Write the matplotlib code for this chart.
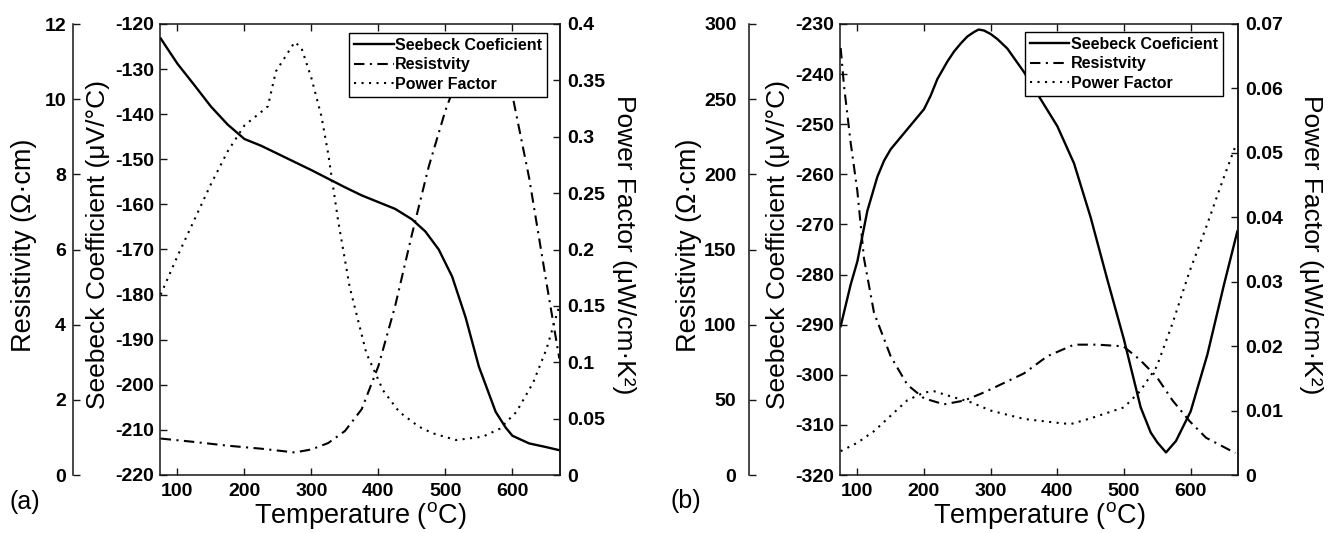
import matplotlib
matplotlib.use("Agg")
import matplotlib.pyplot as plt
from matplotlib.ticker import FixedLocator, FuncFormatter

plt.rcParams['font.family'] = ['Liberation Sans', 'DejaVu Sans']
plt.rcParams['mathtext.fontset'] = 'custom'
plt.rcParams['mathtext.rm'] = 'Liberation Sans'
plt.rcParams['mathtext.default'] = 'regular'

# ---------------- data: panel (a) ----------------
a_T_seebeck = [75, 100, 125, 150, 175, 200, 225, 250, 275, 300, 325, 350, 375, 400,
               425, 450, 470, 490, 510, 530, 550, 575, 590, 600, 625, 650, 670]
a_seebeck = [-123.2, -128.8, -133.5, -138.3, -142.3, -145.5, -147.0, -148.8, -150.6,
             -152.4, -154.3, -156.2, -158.0, -159.5, -161.0, -163.3, -166.0, -170.0,
             -176.0, -185.0, -196.0, -206.0, -209.5, -211.3, -213.0, -213.8, -214.5]
a_T_resist = [75, 125, 175, 225, 275, 300, 325, 350, 375, 400, 425, 450, 475, 500,
              525, 550, 575, 600, 625, 650, 670]
a_resist = [0.97, 0.88, 0.78, 0.70, 0.60, 0.68, 0.85, 1.17, 1.75, 2.9, 4.5, 6.4, 8.2,
            9.7, 10.9, 11.5, 11.3, 10.1, 7.9, 5.2, 3.1]
a_T_pf = [75, 100, 125, 150, 175, 200, 225, 235, 247, 260, 275, 285, 300, 315, 325,
          340, 357, 382, 407, 431, 460, 481, 516, 556, 581, 606, 631, 651, 670]
a_pf = [0.160, 0.194, 0.226, 0.258, 0.287, 0.310, 0.322, 0.327, 0.358, 0.370, 0.384,
        0.379, 0.352, 0.318, 0.285, 0.225, 0.167, 0.108, 0.075, 0.056, 0.043, 0.037,
        0.031, 0.034, 0.041, 0.056, 0.082, 0.112, 0.150]

# ---------------- data: panel (b) ----------------
b_T_seebeck = [75, 90, 100, 115, 130, 140, 150, 160, 175, 190, 200, 210, 220, 235,
               245, 255, 265, 275, 282, 290, 300, 310, 325, 350, 375, 400, 425, 450,
               475, 500, 525, 540, 550, 563, 578, 600, 625, 650, 670]
b_seebeck = [-290.3, -282.0, -277.4, -267.3, -260.5, -257.3, -255.0, -253.4, -251.0,
             -248.6, -247.0, -244.3, -241.0, -237.5, -235.5, -233.9, -232.5, -231.6,
             -231.1, -231.3, -232.0, -233.0, -234.9, -239.6, -245.0, -250.4, -257.8,
             -268.6, -281.0, -293.0, -306.5, -311.5, -313.5, -315.5, -313.2, -307.3,
             -296.0, -282.0, -271.4]
b_T_resist = [75, 80, 90, 100, 110, 125, 150, 175, 200, 230, 260, 285, 300, 350, 385,
              425, 460, 499, 524, 549, 573, 598, 623, 667]
b_resist = [284, 259, 221, 189, 144, 108, 79, 60, 51, 47, 49.5, 54, 57, 67.6, 79,
            86.7, 86.7, 85.6, 76.6, 65.3, 49.5, 36, 24.8, 14.6]
b_T_pf = [75, 100, 125, 150, 175, 200, 215, 240, 270, 300, 350, 400, 420, 450, 500,
          524, 549, 573, 598, 623, 648, 667]
b_pf = [0.0037, 0.0050, 0.0068, 0.0092, 0.0116, 0.0128, 0.0130, 0.0122, 0.0113,
        0.0100, 0.0087, 0.0081, 0.0079, 0.0088, 0.0105, 0.0130, 0.0168, 0.0236,
        0.0315, 0.0384, 0.0457, 0.0510]

x_ticks = [100, 200, 300, 400, 500, 600]
a_seebeck_ticks = list(range(-220, -119, 10))
a_resist_ticks = [0, 2, 4, 6, 8, 10, 12]
a_pf_ticks = [0, 0.05, 0.1, 0.15, 0.2, 0.25, 0.3, 0.35, 0.4]
b_seebeck_ticks = list(range(-320, -229, 10))
b_resist_ticks = [0, 50, 100, 150, 200, 250, 300]
b_pf_ticks = [0, 0.01, 0.02, 0.03, 0.04, 0.05, 0.06, 0.07]

legend_labels = ["Seebeck Coeficient", "Resistvity", "Power Factor"]
x_label = "Temperature ($^{o}$C)"
resist_label = "Resistivity (\u03a9\u00b7cm)"
seebeck_label = "Seebeck Coefficient (\u03bcV/\u00b0C)"
pf_label = "Power Factor (\u03bcW/cm\u00b7K\u00b2)"

W, H = 1329, 533
fig = plt.figure(figsize=(W / 100, H / 100), dpi=100)
fmt = FuncFormatter(lambda v, p: "%g" % round(v, 6))
SPC = "#151515"


def panel(left_px, right_px, Ts, S, Tr, R, Tp, P, s_ticks, r_ticks, p_ticks,
          outer_px, outer_pad, lab_x, tag, tag_xy, leg_anchor):
    top_px, bot_px = 24, 475
    rect = [left_px / W, 1 - bot_px / H, (right_px - left_px) / W, (bot_px - top_px) / H]
    ax = fig.add_axes(rect)
    axr = ax.twinx()
    axp = ax.twinx()

    l1, = ax.plot(Ts, S, color="black", lw=1.7, ls="-")
    l2, = axr.plot(Tr, R, color="black", lw=1.5, ls=(0, (5, 2.6, 1, 2.6)))
    l3, = axp.plot(Tp, P, color="black", lw=1.5, ls=(0, (1, 2.6)))

    ax.set_xlim(74, 671)
    ax.set_ylim(s_ticks[0], s_ticks[-1])
    axr.set_ylim(r_ticks[0], r_ticks[-1])
    axp.set_ylim(p_ticks[0], p_ticks[-1])

    ax.xaxis.set_major_locator(FixedLocator(x_ticks))
    ax.yaxis.set_major_locator(FixedLocator(s_ticks))
    axr.yaxis.set_major_locator(FixedLocator(r_ticks))
    axp.yaxis.set_major_locator(FixedLocator(p_ticks))
    for a in (ax, axr, axp):
        a.xaxis.set_major_formatter(fmt)
        a.yaxis.set_major_formatter(fmt)
        for s in a.spines.values():
            s.set_color(SPC)
            s.set_linewidth(1.1)

    tick_font = dict(labelsize=14, colors="black", width=1.0, color=SPC)
    ax.tick_params(axis="x", which="both", direction="in", length=5, top=True,
                   bottom=True, pad=6, **tick_font)
    ax.tick_params(axis="y", direction="in", length=5, left=True, right=False,
                   pad=4, **tick_font)
    axp.tick_params(axis="y", direction="in", length=5, left=False, right=True,
                    pad=5, **tick_font)

    # outer resistivity axis
    axr.spines["left"].set_position(("outward", (left_px - outer_px) * 0.72))
    for s in ("right", "top", "bottom"):
        axr.spines[s].set_visible(False)
    axr.spines["left"].set_visible(True)
    axr.yaxis.tick_left()
    axr.yaxis.set_label_position("left")
    axr.tick_params(axis="y", direction="in", length=5, pad=outer_pad, **tick_font)
    for s in ("left", "top", "bottom"):
        axp.spines[s].set_visible(False)

    for lbl in ax.get_xticklabels() + ax.get_yticklabels() + axr.get_yticklabels() + axp.get_yticklabels():
        lbl.set_fontweight("bold")

    ax.set_xlabel(x_label, fontsize=19.5, labelpad=0)
    ax.set_ylabel(seebeck_label, fontsize=19)
    axr.set_ylabel(resist_label, fontsize=19.5)
    axp.set_ylabel(pf_label, fontsize=19, rotation=270, va="bottom")
    wpx = right_px - left_px
    ax.yaxis.set_label_coords((lab_x[1] - left_px) / wpx, 0.51)
    axr.yaxis.set_label_coords((lab_x[0] - left_px) / wpx, 0.51)
    axp.yaxis.set_label_coords((lab_x[2] - left_px) / wpx, 0.51)

    leg = axp.legend([l1, l2, l3], legend_labels, loc="upper right",
                     bbox_to_anchor=leg_anchor, borderaxespad=0, fancybox=False,
                     framealpha=1, edgecolor="black", handlelength=2.5,
                     handletextpad=0.1, labelspacing=0.28, borderpad=0.3,
                     prop=dict(weight="bold", size=11.5))
    leg.get_frame().set_linewidth(1.0)

    fig.text(tag_xy[0] / W, 1 - tag_xy[1] / H, tag, fontsize=18, ha="center",
             va="center")


panel(160, 560, a_T_seebeck, a_seebeck, a_T_resist, a_resist, a_T_pf, a_pf,
      a_seebeck_ticks, a_resist_ticks, a_pf_ticks, outer_px=73, outer_pad=5,
      lab_x=(37, 110, 612), tag="(a)", tag_xy=(25, 502), leg_anchor=(0.9675, 0.98))
panel(840, 1238, b_T_seebeck, b_seebeck, b_T_resist, b_resist, b_T_pf, b_pf,
      b_seebeck_ticks, b_resist_ticks, b_pf_ticks, outer_px=749, outer_pad=9,
      lab_x=(702, 790, 1299), tag="(b)", tag_xy=(686, 501), leg_anchor=(0.962, 0.982))

fig.savefig("out.png", dpi=100)
